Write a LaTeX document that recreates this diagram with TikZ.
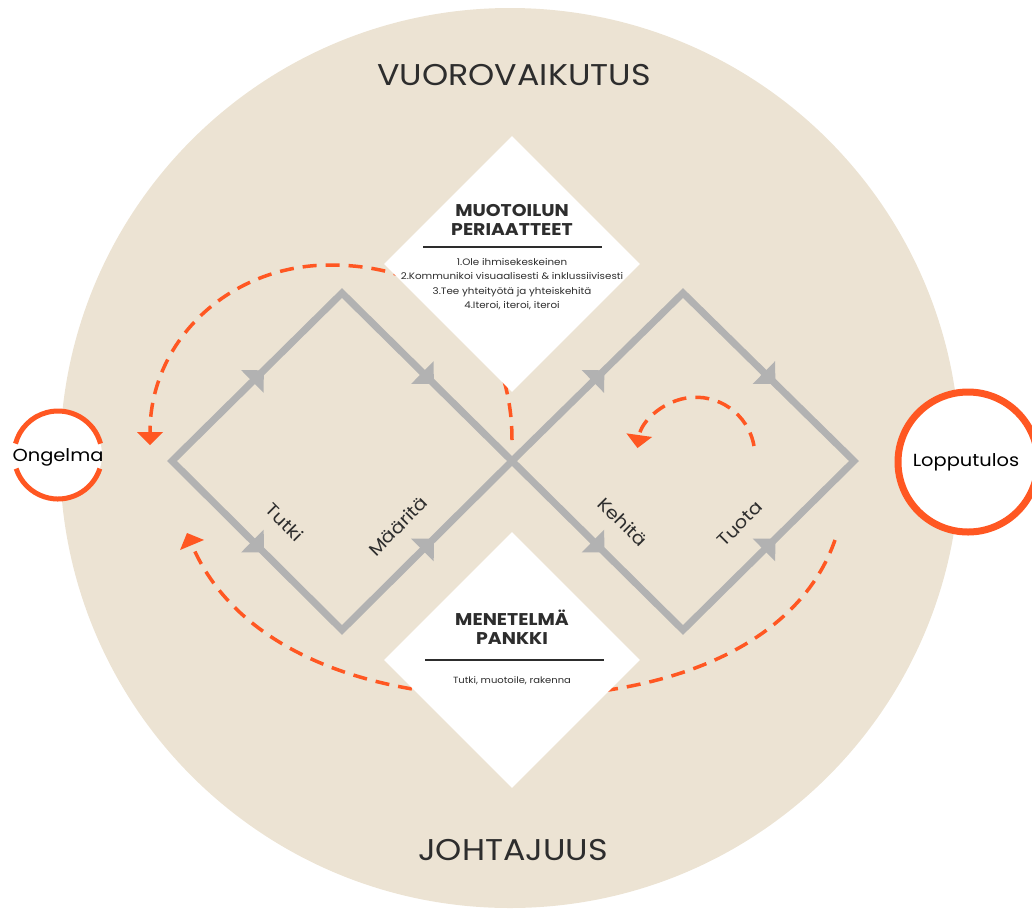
\documentclass[tikz,border=0pt]{standalone}
\usepackage{fontspec}
\setmainfont{Poppins}[FakeStretch=1.11]
\usetikzlibrary{arrows.meta,shapes.geometric,decorations.markings}
\definecolor{bg}{RGB}{236,227,211}
\definecolor{flow}{RGB}{178,178,178}
\definecolor{accent}{RGB}{255,87,34}
\definecolor{ink}{RGB}{45,45,45}
\tikzset{
  flowline/.style={draw=flow, line width=7pt, line join=miter},
  flowmark/.style={postaction={decorate}, decoration={markings,
      mark=at position 0.54 with {\arrow[flow]{Triangle[length=16pt,width=32pt,line width=0pt]}}}},
  loop/.style={draw=accent, line width=3.5pt, dash pattern=on 14pt off 9pt,
      -{Triangle[length=13pt,width=26pt,line width=0pt]}},
  whitediamond/.style={diamond, fill=white, minimum width=256pt, minimum height=256pt, inner sep=0pt},
  bigword/.style={font=\fontsize{30}{32}\selectfont, text=ink},
  head/.style={font=\bfseries\fontsize{17}{18.5}\selectfont, text=ink, align=center},
  small/.style={font=\fontsize{9.3}{14.5}\selectfont, text=ink, align=center},
  stage/.style={font=\fontsize{17.5}{18}\selectfont, text=ink},
  endpoint/.style={font=\fontsize{17.5}{18}\selectfont, text=black},
}
\begin{document}
\begin{tikzpicture}[x=1pt,y=-1pt]
\useasboundingbox (0,0) rectangle (1032,916);
% background circle
\fill[bg] (510,458) circle[radius=450];

% coordinates of the double diamond
\coordinate (L) at (172,461);
\coordinate (T1) at (342,293);
\coordinate (C) at (512,461);
\coordinate (B1) at (342,630);
\coordinate (T2) at (683,293);
\coordinate (R) at (854,461);
\coordinate (B2) at (683,630);

% orange loops (behind white diamonds)
\coordinate (la) at (512,440);
\coordinate (lb) at (330,265);
\coordinate (lc) at (150,445);
\draw[loop] (la) .. controls (512,330) and (440,265) .. (lb)
               .. controls (230,265) and (150,340) .. (lc);
\coordinate (ba) at (835,540);
\coordinate (bb) at (512,697);
\coordinate (bc) at (187,533);
\draw[loop] (ba) .. controls (800,640) and (680,697) .. (bb)
               .. controls (350,697) and (232,640) .. (bc);
\coordinate (ra) at (754,446);
\draw[loop] (ra) arc[start angle=-10, end angle=-172, radius=59];

% white diamonds
\node[whitediamond] (top) at (512,264) {};
\node[whitediamond] (bot) at (512,660) {};

% grey double diamond
\draw[flowline] (L) -- (T1) -- (C) -- (B1) -- cycle;
\draw[flowline] (C) -- (T2) -- (R) -- (B2) -- cycle;
\path[flowmark] (L) -- (T1);
\path[flowmark] (T1) -- (C);
\path[flowmark] (L) -- (B1);
\path[flowmark] (B1) -- (C);
\path[flowmark] (C) -- (T2);
\path[flowmark] (T2) -- (R);
\path[flowmark] (C) -- (B2);
\path[flowmark] (B2) -- (R);

% stage labels
\node[stage, rotate=-45] (tutki) at (285,522) {Tutki};
\node[stage, rotate=45] (maarita) at (398,526) {Määritä};
\node[stage, rotate=-45] (kehita) at (623,522) {Kehitä};
\node[stage, rotate=45] (tuota) at (740,524) {Tuota};

% top diamond text
\node[head] (ph) at (512,220) {MUOTOILUN\\PERIAATTEET};
\coordinate (pr1) at (423,247);
\coordinate (pr2) at (602,247);
\draw[line width=2pt, ink] (pr1) -- (pr2);
\node[small] (pl) at (512,284) {1.Ole ihmisekeskeinen\\2.Kommunikoi visuaalisesti \& inklussiivisesti\\3.Tee yhteityötä ja yhteiskehitä\\4.Iteroi, iteroi, iteroi};

% bottom diamond text
\node[head] (mh) at (512,627) {MENETELMÄ\\PANKKI};
\coordinate (mr1) at (425,660);
\coordinate (mr2) at (604,660);
\draw[line width=2pt, ink] (mr1) -- (mr2);
\node[small, font=\fontsize{9}{10}\selectfont] (ml) at (512,681) {Tutki, muotoile, rakenna};

% big words
\node[bigword] (vuoro) at (514,75) {VUOROVAIKUTUS};
\node[bigword] (johto) at (513,850) {JOHTAJUUS};

% Ongelma
\fill[white] (58,455) circle[radius=44];
\draw[accent, line width=5pt] (58,455) ++(-15:44) arc[start angle=-15, end angle=-165, radius=44];
\draw[accent, line width=5pt] (58,455) ++(18:44) arc[start angle=18, end angle=162, radius=44];
\node[endpoint] (ongelma) at (58,457) {Ongelma};

% Lopputulos
\draw[accent, fill=white, line width=7pt] (968,462) circle[radius=70];
\node[endpoint] (loppu) at (966,462) {Lopputulos};
\end{tikzpicture}
\end{document}
